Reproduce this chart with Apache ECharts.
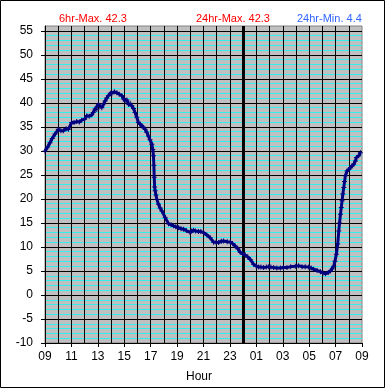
<!DOCTYPE html>
<html>
<head>
<meta charset="utf-8">
<script src="https://cdn.jsdelivr.net/npm/echarts@6/dist/echarts.min.js"></script>
<style>
html,body{margin:0;padding:0;background:#fff;}
#chart{width:385px;height:388px;}
</style>
</head>
<body>
<div id="chart"></div>
<script>
// Hours elapsed since 09:00
const hourOffsets = [0,0.2,0.38,0.55,0.76,1.01,1.2,1.39,1.6,1.77,2.02,2.2,2.4,2.6,2.78,3.0,3.16,3.35,3.54,3.65,3.79,3.92,4.04,4.15,4.3,4.45,4.55,4.68,4.8,4.95,5.06,5.25,5.44,5.62,5.82,5.95,6.07,6.2,6.32,6.45,6.57,6.7,6.82,6.95,7.07,7.2,7.33,7.45,7.58,7.7,7.83,7.95,8.09,8.16,8.21,8.24,8.27,8.3,8.34,8.4,8.47,8.59,8.72,8.85,9.1,9.35,9.55,9.73,9.9,10.11,10.3,10.49,10.7,10.99,11.1,11.24,11.4,11.62,11.8,12.0,12.25,12.51,12.76,12.95,13.14,13.35,13.52,13.8,14.03,14.2,14.4,14.6,14.78,14.95,15.16,15.35,15.54,15.79,16.0,16.17,16.35,16.55,16.75,16.93,17.1,17.31,17.55,17.82,18.05,18.32,18.6,18.95,19.2,19.46,19.7,19.96,20.15,20.34,20.6,20.85,21.05,21.23,21.45,21.61,21.75,21.86,21.95,22.06,22.16,22.24,22.3,22.37,22.43,22.49,22.55,22.62,22.68,22.74,22.87,23.0,23.12,23.25,23.37,23.5,23.58,23.75,23.88];
// Temperature readings
const temps = [30.0,30.8,31.7,32.6,33.5,34.5,34.2,34.2,34.6,34.5,35.9,35.9,36.1,36.0,36.4,36.6,37.3,37.2,37.5,38.0,38.7,38.6,39.7,39.3,39.0,39.8,40.4,41.0,41.5,42.0,41.9,42.3,42.1,41.8,41.5,40.8,40.4,40.6,39.7,39.9,39.4,38.8,38.0,37.0,35.9,35.6,35.2,34.9,34.5,33.9,33.1,32.3,31.4,30.3,29.0,27.0,24.5,22.5,21.7,20.8,19.9,18.9,18.1,17.5,16.1,14.85,14.6,14.4,14.2,14.0,13.8,13.7,13.4,13.0,13.3,13.5,13.3,13.2,13.2,13.0,12.5,11.9,11.0,11.0,10.9,11.2,11.25,11.1,11.0,10.7,10.2,9.6,8.9,8.6,8.3,7.9,7.4,6.4,6.0,5.8,5.8,5.7,5.8,5.9,5.8,5.7,5.6,5.6,5.7,5.7,5.9,6.0,6.1,5.9,5.9,5.8,5.6,5.35,5.1,4.85,4.6,4.4,4.7,5.0,5.4,6.0,7.0,8.5,10.6,13.3,15.0,16.8,18.2,19.6,21.0,22.4,23.6,24.8,25.8,26.1,26.5,26.9,27.2,27.9,28.6,29.0,29.6];
// X-axis tick labels (every 2 hours from 09:00)
const hourLabels = ['09','11','13','15','17','19','21','23','01','03','05','07','09'];
const midnightOffset = 15;
const statTexts = ['6hr-Max. 42.3','24hr-Max. 42.3','24hr-Min. 4.4'];

const FONT = '"Liberation Sans", Arial, sans-serif';
const seriesData = hourOffsets.map((h,i)=>[h,temps[i]]);

const chart = echarts.init(document.getElementById('chart'), null, {renderer:'canvas'});
chart.setOption({
  animation:false,
  backgroundColor:'#ffffff',
  textStyle:{fontFamily:FONT},
  title:[
    {text:statTexts[0], left:54, top:8, textStyle:{color:'#ff0000',fontSize:11,fontWeight:'normal',fontFamily:FONT}},
    {text:statTexts[1], left:191, top:8, textStyle:{color:'#ff0000',fontSize:11,fontWeight:'normal',fontFamily:FONT}},
    {text:statTexts[2], left:292, top:8, textStyle:{color:'#3366ff',fontSize:11,fontWeight:'normal',fontFamily:FONT}},
    {text:'Hour', left:181, top:366, textStyle:{color:'#000',fontSize:12,fontWeight:'normal',fontFamily:FONT}}
  ],
  graphic:[
    {type:'rect', shape:{x:0.5,y:0.5,width:384,height:387}, style:{fill:'none',stroke:'#000',lineWidth:1}, silent:true, z:100}
  ],
  grid:{left:45, right:23, top:26, bottom:45, show:true, backgroundColor:'#c0c0c0', borderColor:'#808080', borderWidth:1},
  xAxis:{
    type:'value', min:0, max:24, interval:2,
    axisLine:{show:true, onZero:false, lineStyle:{color:'#000',width:1}},
    axisTick:{show:true, inside:false, length:4, lineStyle:{color:'#000'}},
    axisLabel:{color:'#000', fontSize:12, margin:8, fontFamily:FONT,
      formatter:(v)=>hourLabels[Math.round(v/2)] || ''},
    splitLine:{show:true, showMinLine:false, showMaxLine:false, lineStyle:{color:'#000',width:1}},
    minorTick:{show:false, splitNumber:2},
    minorSplitLine:{show:true, lineStyle:{color:'#000',width:1}}
  },
  yAxis:{
    type:'value', min:-10, max:56, interval:5,
    axisLine:{show:true, onZero:false, lineStyle:{color:'#000',width:1}},
    axisTick:{show:true, inside:false, length:4, lineStyle:{color:'#000'}},
    axisLabel:{color:'#000', fontSize:12, margin:12, fontFamily:FONT, showMaxLabel:false},
    splitLine:{show:true, showMinLine:false, showMaxLine:false, lineStyle:{color:'#000',width:1}},
    minorTick:{show:false, splitNumber:5},
    minorSplitLine:{show:true, lineStyle:{color:'#33eeee',width:1}}
  },
  series:[{
    type:'line',
    data:seriesData,
    showSymbol:true,
    symbol:'path://M2,0H3V2H5V3H3V5H2V3H0V2H2Z',
    symbolSize:5,
    itemStyle:{color:'#000080'},
    lineStyle:{color:'#000080', width:3},
    z:5,
    markLine:{
      silent:true, symbol:['none','none'], label:{show:false},
      lineStyle:{color:'#000', width:3, type:'solid'},
      data:[{xAxis:midnightOffset}]
    }
  }]
});
</script>
</body>
</html>
